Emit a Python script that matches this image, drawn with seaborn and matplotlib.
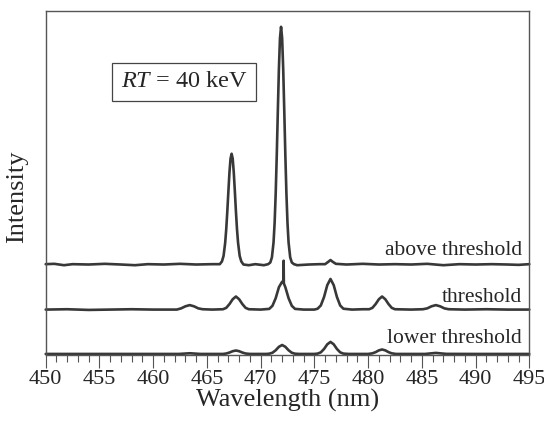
import numpy as np
import pandas as pd
import matplotlib
matplotlib.use("Agg")
import matplotlib.pyplot as plt
from matplotlib.ticker import MultipleLocator
import seaborn as sns

# ---------------- data (arbitrary intensity units) ----------------
above_wl = [450.0, 450.8, 451.7, 452.5, 454.0, 455.5, 457.0, 458.3, 459.5, 461.0, 462.5, 464.0,
            465.5, 466.2, 466.4, 466.55, 466.7, 466.8, 466.9, 467.0, 467.1, 467.2, 467.3, 467.4,
            467.5, 467.6, 467.7, 467.8, 467.9, 468.05, 468.2, 468.4, 468.9, 469.5, 470.3, 470.7,
            470.9, 471.05, 471.2, 471.3, 471.4, 471.5, 471.6, 471.7, 471.8, 471.9, 472.0, 472.1,
            472.2, 472.3, 472.4, 472.5, 472.6, 472.75, 472.9, 473.1, 473.4, 474.5, 475.5, 476.0,
            476.3, 476.5, 476.7, 477.0, 478.0, 479.5, 481.0, 482.5, 484.0, 485.5, 487.0, 488.5,
            490.0, 491.5, 493.0, 494.0, 495.0]
above_int = [26.4, 26.5, 26.1, 26.4, 26.3, 26.5, 26.3, 26.1, 26.4, 26.3, 26.5, 26.3,
             26.4, 26.4, 27.2, 28.8, 32.6, 36.6, 41.8, 47.6, 53.1, 57.1, 58.5, 57.1,
             53.1, 47.6, 41.8, 36.6, 32.6, 28.8, 27.2, 26.3, 26.1, 26.4, 26.1, 26.4,
             26.9, 28.4, 32.7, 38.3, 46.8, 58.0, 70.9, 83.2, 92.1, 95.4, 92.1, 83.2,
             70.9, 58.0, 46.8, 38.3, 32.7, 28.4, 26.9, 26.4, 26.1, 26.3, 26.4, 26.4,
             27.1, 27.6, 27.1, 26.5, 26.3, 26.5, 26.3, 26.4, 26.3, 26.5, 26.1, 26.4,
             26.3, 26.4, 26.3, 26.2, 26.4]

thr_wl = [450.0, 452.0, 454.0, 456.0, 458.0, 460.0, 462.2, 462.6, 463.0, 463.4, 463.8, 464.2,
          464.6, 465.5, 466.5, 466.8, 467.1, 467.4, 467.7, 468.0, 468.3, 468.6, 468.9, 470.0,
          470.8, 471.1, 471.4, 471.7, 472.0, 472.12, 472.14, 472.16, 472.3, 472.6, 472.9, 473.2,
          474.0, 475.0, 475.3, 475.6, 475.9, 476.2, 476.5, 476.8, 477.1, 477.4, 477.7, 478.5,
          479.5, 480.1, 480.4, 480.7, 481.0, 481.3, 481.6, 481.9, 482.2, 482.5, 484.0, 485.1,
          485.5, 485.9, 486.3, 486.7, 487.1, 487.5, 489.0, 491.0, 493.0, 495.0]
thr_int = [13.2, 13.3, 13.1, 13.2, 13.3, 13.2, 13.2, 13.55, 14.15, 14.5, 14.15, 13.55,
           13.3, 13.2, 13.3, 13.7, 14.8, 16.2, 17.0, 16.2, 14.8, 13.7, 13.3, 13.2,
           13.4, 14.3, 16.5, 19.7, 21.3, 21.0, 27.4, 20.8, 19.7, 16.5, 14.3, 13.4,
           13.2, 13.2, 13.45, 14.4, 16.85, 20.3, 22.1, 20.3, 16.85, 14.4, 13.45, 13.2,
           13.3, 13.3, 13.7, 14.8, 16.2, 17.0, 16.2, 14.8, 13.7, 13.3, 13.2, 13.3,
           13.55, 14.15, 14.5, 14.15, 13.55, 13.3, 13.2, 13.3, 13.2, 13.2]

low_wl = [450.0, 455.0, 460.0, 462.4, 462.9, 463.4, 463.9, 464.4, 466.5, 466.8, 467.1, 467.4,
          467.7, 468.0, 468.3, 468.6, 469.0, 470.5, 470.8, 471.1, 471.4, 471.7, 472.0, 472.3,
          472.6, 472.9, 473.2, 473.6, 475.0, 475.3, 475.6, 475.9, 476.2, 476.5, 476.8, 477.1,
          477.4, 477.7, 478.2, 480.0, 480.4, 480.7, 481.0, 481.3, 481.6, 481.9, 482.2, 482.6,
          485.3, 485.8, 486.3, 486.8, 487.3, 490.0, 495.0]
low_int = [0.3, 0.3, 0.3, 0.3, 0.4, 0.5, 0.4, 0.3, 0.3, 0.43, 0.71, 1.1,
           1.3, 1.1, 0.71, 0.43, 0.3, 0.3, 0.37, 0.65, 1.37, 2.38, 2.9, 2.38,
           1.37, 0.65, 0.37, 0.3, 0.3, 0.4, 0.77, 1.74, 3.1, 3.8, 3.1, 1.74,
           0.77, 0.4, 0.3, 0.3, 0.48, 0.83, 1.34, 1.6, 1.34, 0.83, 0.48, 0.3,
           0.3, 0.45, 0.6, 0.45, 0.32, 0.3, 0.3]

series_labels = ["above threshold", "threshold", "lower threshold"]
label_y = [29.0, 15.4, 3.5]
x_ticks = [450, 455, 460, 465, 470, 475, 480, 485, 490, 495]
box_text = r"$\mathit{RT}$ = 40 keV"

# ---------------- style ----------------
sns.set_style("ticks")
plt.rcParams["font.family"] = ["Liberation Serif", "DejaVu Serif"]
plt.rcParams["mathtext.fontset"] = "custom"
plt.rcParams["mathtext.rm"] = "Liberation Serif"
plt.rcParams["mathtext.it"] = "Liberation Serif:italic"

line_color = "#383838"
text_color = "#262626"

fig = plt.figure(figsize=(5.44, 4.26), dpi=100)
ax = fig.add_axes([0.0840, 0.1667, 0.8890, 0.8075])

for wl, inten in [(above_wl, above_int), (thr_wl, thr_int), (low_wl, low_int)]:
    df = pd.DataFrame({"wl": wl, "I": inten})
    sns.lineplot(data=df, x="wl", y="I", ax=ax, color=line_color, linewidth=1.9,
                 estimator=None, sort=False, clip_on=False)

ax.set_xlim(450, 495)
ax.set_ylim(0, 100)
ax.set_xticks(x_ticks)
ax.xaxis.set_minor_locator(MultipleLocator(1))
ax.set_yticks([])
ax.tick_params(axis="x", which="major", direction="out", length=9, width=0.8,
               color="#555555", labelsize=16, pad=2, labelcolor=text_color)
ax.tick_params(axis="x", which="minor", direction="out", length=5, width=0.8,
               color="#555555")
for sp in ax.spines.values():
    sp.set_visible(True)
    sp.set_color("#555555")
    sp.set_linewidth(1.0)

ax.set_xlabel("Wavelength (nm)", fontsize=19, color=text_color, labelpad=0)
ax.set_ylabel("Intensity", fontsize=19, color=text_color)
ax.yaxis.set_label_coords(-0.036, 0.46)

for lab, yv in zip(series_labels, label_y):
    ax.text(494.3, yv, lab, ha="right", va="baseline", fontsize=15.5, color=text_color)

ax.text(0.2866, 0.795, box_text, transform=ax.transAxes, ha="center", va="center",
        fontsize=17.5, color=text_color,
        bbox=dict(boxstyle="square,pad=0.35", fc="white", ec="#444444", lw=0.9))

fig.savefig("out.png", dpi=100)
